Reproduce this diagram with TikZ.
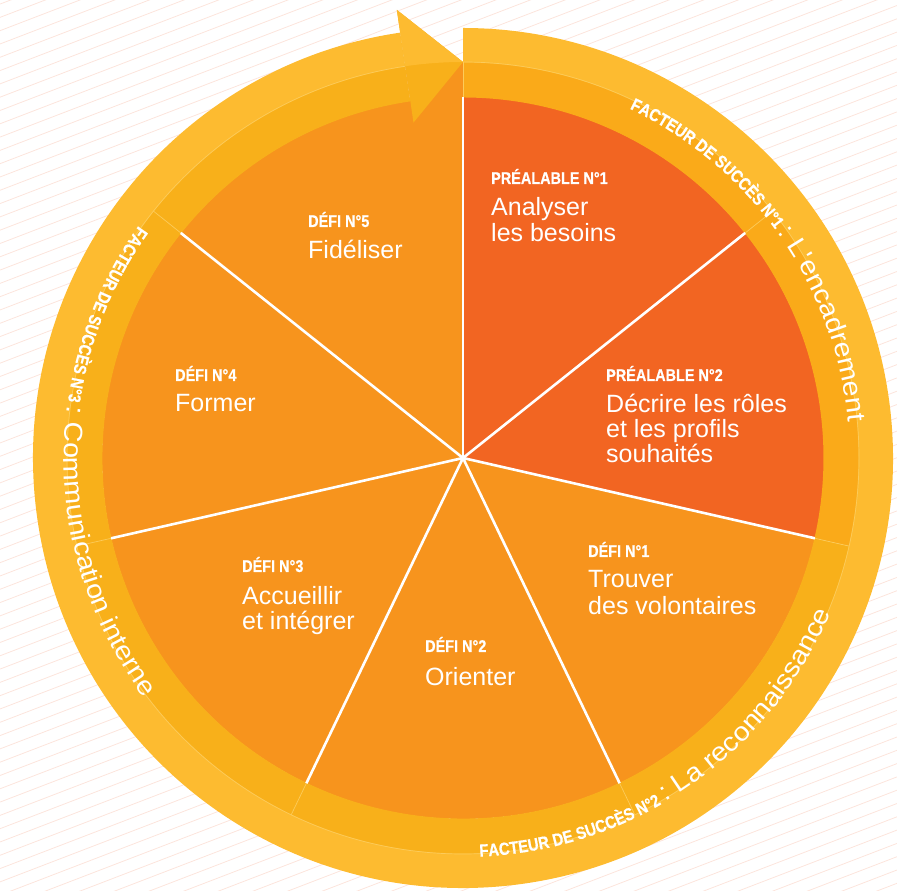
\documentclass[tikz,border=0pt]{standalone}
\usepackage{fontspec}
\setmainfont{Liberation Sans}
\newfontfamily\condfont[FakeStretch=0.85, BoldFeatures={FakeBold=0.6}]{Liberation Sans}
\newfontfamily\widefont[FakeStretch=1.1]{Liberation Sans}
\usetikzlibrary{decorations.text}
\definecolor{prea}{HTML}{F26522}
\definecolor{defi}{HTML}{F7941D}
\definecolor{bandin}{HTML}{F8B01A}
\definecolor{bandinp}{HTML}{FAAA19}
\definecolor{bandout}{HTML}{FDBB30}
\definecolor{faint}{HTML}{FCCB5A}
\definecolor{hatch}{HTML}{FCE4DC}
\newcommand\rcaps{\condfont\bfseries\fontsize{17.5}{17.5}\selectfont}
\newcommand\rlight{\widefont\fontsize{26}{26}\selectfont}
\begin{document}
\begin{tikzpicture}[x=1pt,y=1pt,
  head/.style={anchor=base west, inner sep=0pt, text=white, font=\condfont\bfseries\fontsize{17}{17}\selectfont},
  body/.style={anchor=base west, inner sep=0pt, text=white, font=\fontsize{25}{25}\selectfont},
  spoke/.style={white, line width=2.6pt},
  seam/.style={faint, line width=0.7pt}]
\useasboundingbox (0,0) rectangle (897,891);
% background hatching
\begin{scope}
\clip (0,0) rectangle (897,891);
\foreach \i in {0,...,100} {
  \draw[hatch, line width=0.8pt] (0,{-350+\i*13.3}) -- (897,{-350+\i*13.3+344.4});
}
\end{scope}
\begin{scope}[shift={(463,433)}]
% pie sectors
\foreach \k/\c in {0/prea,1/prea,2/defi,3/defi,4/defi,5/defi,6/defi} {
  \pgfmathsetmacro\aS{90-\k*360/7}
  \pgfmathsetmacro\aE{90-(\k+1)*360/7}
  \fill[\c] (0,0) -- (\aS:361pt) arc[start angle=\aS, end angle=\aE, radius=361pt] -- cycle;
}
\fill[defi] (90:355pt) arc[start angle=90, end angle=98.4, radius=355pt] -- (98.4:396pt) arc[start angle=98.4, end angle=90, radius=396pt] -- cycle;
% ring bands
\fill[bandinp] (90:360.5pt) arc[start angle=90, end angle=-12.857, radius=360.5pt] -- (-12.857:396pt) arc[start angle=-12.857, end angle=90, radius=396pt] -- cycle;
\fill[bandin] (-12.857:360.5pt) arc[start angle=-12.857, end angle=-261.6, radius=360.5pt] -- (-261.6:396pt) arc[start angle=-261.6, end angle=-12.857, radius=396pt] -- cycle;
\fill[bandout] (90:395.5pt) arc[start angle=90, end angle=-261.6, radius=395.5pt] -- (-261.6:430pt) arc[start angle=-261.6, end angle=90, radius=430pt] -- cycle;
% arrow head
\fill[bandin] (90:396pt) -- (98.4:453pt) -- (98.4:339pt) -- cycle;
\fill[bandout] (90:396pt) -- (98.4:453pt) -- (98.4:396pt) arc[start angle=98.4, end angle=90, radius=396pt] -- cycle;
% seams
\foreach \k in {0,...,6} {
  \draw[seam] ({90-\k*360/7}:361pt) -- ({90-\k*360/7}:396pt);
}
\draw[seam] (90:396pt) arc[start angle=90, end angle=-261.6, radius=396pt];
% spokes
\foreach \k in {0,...,6} {
  \draw[spoke] (0,0) -- ({90-\k*360/7}:361pt);
}
% ring texts
\path[decorate, decoration={text along path, text color=white, text={|\rcaps|FACTEUR DE SUCCÈS N°1 |\rlight|: L'encadrement}}]
  (64.5:387pt) arc[start angle=64.5, end angle=-10, radius=387pt];
\path[decorate, decoration={text along path, text color=white, text={|\rcaps|FACTEUR DE SUCCÈS N°2 |\rlight|: La reconnaissance}}]
  (-87.6:399pt) arc[start angle=-87.6, end angle=-5, radius=399pt];
\path[decorate, decoration={text along path, text color=white, text={|\rcaps|FACTEUR DE SUCCÈS N°3 |\rlight|: Communication interne}}]
  (144.4:399pt) arc[start angle=144.4, end angle=240, radius=399pt];
\end{scope}
% sector labels
\node[head] (p1h) at (491,707) {PRÉALABLE N°1};
\node[body] (p1a) at (491,675) {Analyser};
\node[body] (p1b) at (491,649) {les besoins};
\node[head] (p2h) at (606,510) {PRÉALABLE N°2};
\node[body] (p2a) at (606,478) {Décrire les rôles};
\node[body] (p2b) at (606,453) {et les profils};
\node[body] (p2c) at (606,428) {souhaités};
\node[head] (d1h) at (588,334) {DÉFI N°1};
\node[body] (d1a) at (588,303) {Trouver};
\node[body] (d1b) at (588,276) {des volontaires};
\node[head] (d2h) at (425,239) {DÉFI N°2};
\node[body] (d2a) at (425,205) {Orienter};
\node[head] (d3h) at (242,319) {DÉFI N°3};
\node[body] (d3a) at (242,286) {Accueillir};
\node[body] (d3b) at (242,261) {et intégrer};
\node[head] (d4h) at (175,510) {DÉFI N°4};
\node[body] (d4a) at (175,479) {Former};
\node[head] (d5h) at (308,664) {DÉFI N°5};
\node[body] (d5a) at (308,632) {Fidéliser};
\end{tikzpicture}
\end{document}
